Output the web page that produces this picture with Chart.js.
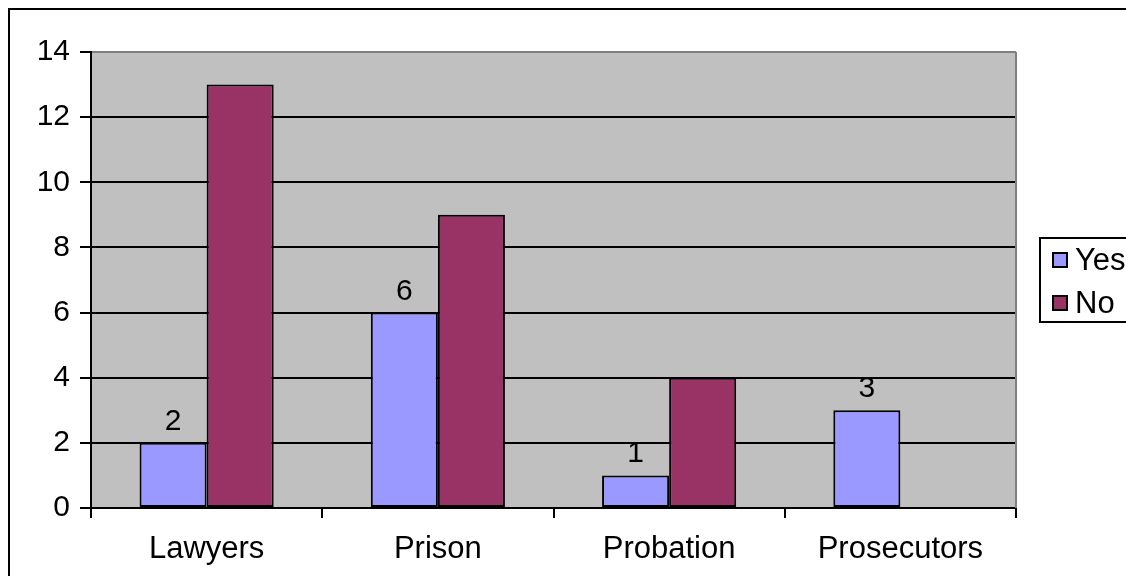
<!DOCTYPE html>
<html>
<head>
<meta charset="utf-8">
<script src="https://cdn.jsdelivr.net/npm/chart.js@4"></script>
<style>
  html, body { margin: 0; padding: 0; background: #fff; overflow: hidden; }
  #wrap { width: 1126px; height: 576px; }
</style>
</head>
<body>
<div id="wrap"><canvas id="myChart" width="1126" height="576"></canvas></div>
<script>
let categories = ['Lawyers', 'Prison', 'Probation', 'Prosecutors'];
let yesValues = [2, 6, 1, 3];
let noValues = [13, 9, 4, 0];
let seriesNames = ['Yes', 'No'];
let seriesColors = ['#9999FF', '#993366'];

const FONT = '"Liberation Sans", Arial, sans-serif';

// grey plot area, outer frame, right border of plot
let framePlugin = {
    id: 'frame',
    beforeDraw(chart) {
        const c = chart.ctx, a = chart.chartArea;
        c.save();
        c.fillStyle = '#fff';
        c.fillRect(0, 0, chart.width, chart.height);
        c.fillStyle = '#C0C0C0';
        c.fillRect(a.left, a.top, a.right - a.left, a.bottom - a.top);
        c.strokeStyle = '#000';
        c.lineWidth = 2;
        c.strokeRect(9, 9, 3000, 3000);
        c.restore();
    },
    afterDraw(chart) {
        const c = chart.ctx, a = chart.chartArea;
        c.save();
        c.strokeStyle = '#808080';
        c.lineWidth = 2;
        c.beginPath();
        c.moveTo(a.right, a.top);
        c.lineTo(a.right, a.bottom);
        c.stroke();

        // legend box (cut off by the canvas edge like the original)
        c.strokeStyle = '#000';
        c.lineWidth = 2;
        c.strokeRect(1040, 238, 200, 84);
        c.font = '31px ' + FONT;
        c.textBaseline = 'middle';
        c.textAlign = 'left';
        const rows = [260, 303];
        for (let i = 0; i < seriesNames.length; i++) {
            c.fillStyle = seriesColors[i];
            c.fillRect(1053, rows[i] - 7, 14, 14);
            c.strokeRect(1053, rows[i] - 7, 14, 14);
            c.fillStyle = '#000';
            c.fillText(seriesNames[i], 1075, rows[i] + 1);
        }
        c.restore();
    }
};

// value labels on the Yes bars only
let labelPlugin = {
    id: 'yesLabels',
    afterDatasetsDraw(chart) {
        const c = chart.ctx;
        const meta = chart.getDatasetMeta(0);
        c.save();
        c.font = '30px ' + FONT;
        c.fillStyle = '#000';
        c.textAlign = 'center';
        c.textBaseline = 'alphabetic';
        meta.data.forEach((bar, i) => {
            c.fillText(String(yesValues[i]), bar.x, bar.y - 13);
        });
        c.restore();
    }
};

let ctx = document.querySelector('#myChart').getContext('2d');
let myChart = new Chart(ctx, {
    type: 'bar',
    data: {
        labels: categories,
        datasets: [
            {
                label: seriesNames[0],
                data: yesValues,
                backgroundColor: seriesColors[0],
                borderColor: '#000',
                borderWidth: 2,
                borderSkipped: false
            },
            {
                label: seriesNames[1],
                data: noValues,
                backgroundColor: seriesColors[1],
                borderColor: '#000',
                borderWidth: 2,
                borderSkipped: false
            }
        ]
    },
    options: {
        responsive: false,
        animation: false,
        events: [],
        layout: { padding: { left: 0, right: 110, top: 52, bottom: 0 } },
        datasets: { bar: { categoryPercentage: 0.58, barPercentage: 1.0 } },
        plugins: {
            legend: { display: false },
            tooltip: { enabled: false }
        },
        scales: {
            x: {
                offset: true,
                grid: {
                    offset: true,
                    drawOnChartArea: false,
                    color: '#000',
                    lineWidth: 2,
                    tickLength: 10
                },
                border: { color: '#000', width: 2 },
                ticks: {
                    color: '#000',
                    font: { family: FONT, size: 31 },
                    padding: 13,
                    maxRotation: 0
                },
                afterFit(scale) { scale.height = 68; }
            },
            y: {
                min: 0,
                max: 14,
                ticks: {
                    stepSize: 2,
                    color: '#000',
                    font: { family: FONT, size: 30 },
                    padding: 10
                },
                grid: {
                    color: (c) => (c.tick && c.tick.value === 14 ? '#808080' : '#000'),
                    lineWidth: 2,
                    tickLength: 11,
                    tickColor: '#000'
                },
                border: { color: '#000', width: 2 },
                afterFit(scale) { scale.width = 91; }
            }
        }
    },
    plugins: [framePlugin, labelPlugin]
});
</script>
</body>
</html>
